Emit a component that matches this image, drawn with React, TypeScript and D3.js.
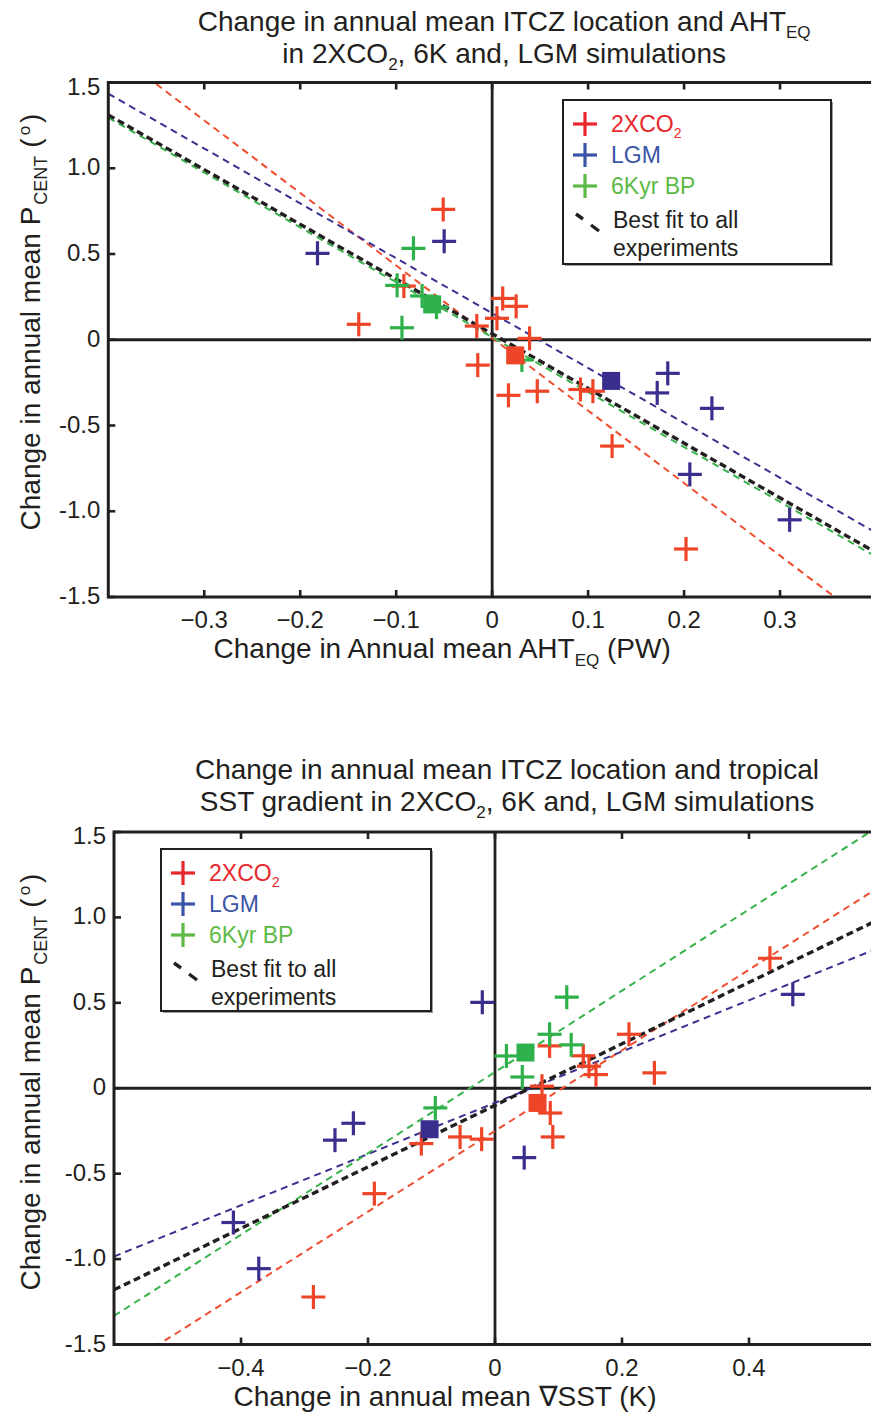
import React from "react";
import * as d3 from "d3";

// ---------- DATA ----------
// Top panel: Change in annual mean AHT_EQ (PW) vs P_CENT
const topRedX = [-0.051, -0.139, -0.092, 0.011, 0.025, 0.005, -0.016, 0.039, -0.015, 0.017, 0.047, 0.092, 0.105, 0.125, 0.202];
const topRedY = [0.76, 0.09, 0.313, 0.241, 0.195, 0.125, 0.08, 0.008, -0.148, -0.324, -0.3, -0.29, -0.3, -0.62, -1.22];
const topBlueX = [-0.182, -0.05, 0.183, 0.172, 0.229, 0.206, 0.31];
const topBlueY = [0.504, 0.574, -0.196, -0.31, -0.4, -0.785, -1.05];
const topGreenX = [-0.082, -0.099, -0.094, -0.073, -0.058, 0.031];
const topGreenY = [0.533, 0.317, 0.07, 0.255, 0.19, -0.118];
const topMeanX = [0.024, 0.124, -0.0625]; // red, blue, green
const topMeanY = [-0.091, -0.24, 0.206];
// fits: [intercept, slope] for red, blue, green, black
const topFitB = [0.01, 0.155, 0.015, 0.035];
const topFitM = [-4.23, -3.2, -3.2, -3.19];

// Bottom panel: Change in annual mean grad SST (K) vs P_CENT
const botRedX = [0.433, 0.211, 0.086, 0.139, 0.148, 0.251, 0.159, 0.074, 0.087, 0.091, -0.055, -0.021, -0.116, -0.19, -0.286];
const botRedY = [0.761, 0.316, 0.248, 0.19, 0.129, 0.09, 0.08, 0.012, -0.145, -0.285, -0.285, -0.298, -0.324, -0.617, -1.222];
const botBlueX = [-0.02, 0.469, -0.223, -0.252, 0.046, -0.412, -0.372];
const botBlueY = [0.503, 0.55, -0.205, -0.304, -0.406, -0.786, -1.056];
const botGreenX = [0.113, 0.086, 0.12, 0.018, 0.043, -0.094];
const botGreenY = [0.533, 0.316, 0.254, 0.189, 0.066, -0.115];
const botMeanX = [0.067, -0.103, 0.048];
const botMeanY = [-0.086, -0.24, 0.209];
const botFitB = [-0.25, -0.085, 0.095, -0.1];
const botFitM = [2.36, 1.5, 2.38, 1.8];

const topXTicks = [-0.3, -0.2, -0.1, 0, 0.1, 0.2, 0.3];
const botXTicks = [-0.4, -0.2, 0, 0.2, 0.4];
const yTicks = [-1.5, -1.0, -0.5, 0, 0.5, 1.0, 1.5];
const legendLabels = ["2XCO", "LGM", "6Kyr BP"];

// ---------- STYLE ----------
const markerColors = ["#ee4427", "#3a2e8f", "#2eb14b"];
const lineColors = ["#f04e30", "#3b3190", "#37b34a", "#231f20"];
const legendTextColors = ["#e8262b", "#3a55a6", "#5dba47"];
const FONT = "'Liberation Sans', Arial, Helvetica, sans-serif";
const INK = "#231f20";

const fmtY = (v: number) => (v === 0 ? "0" : v.toFixed(1));
const fmtX = (v: number) => (Math.abs(v) < 1e-9 ? "0" : d3.format("")(+v.toFixed(1)));

function Cross({ x, y, color }: { x: number; y: number; color: string }) {
  const h = 12;
  return (
    <g stroke={color} strokeWidth={3.2}>
      <line x1={x - h} x2={x + h} y1={y} y2={y} />
      <line x1={x} x2={x} y1={y - h} y2={y + h} />
    </g>
  );
}

function Panel(props: {
  id: string;
  xDomain: [number, number];
  xRange: [number, number];
  yRange: [number, number];
  xTicks: number[];
  reds: [number[], number[]];
  blues: [number[], number[]];
  greens: [number[], number[]];
  meanX: number[];
  meanY: number[];
  fitB: number[];
  fitM: number[];
  legend: { x: number; y: number; w: number; h: number };
  title1: React.ReactNode;
  title2: React.ReactNode;
  titleY: [number, number];
  xLabel: React.ReactNode;
  xLabelY: number;
  yLabelCenter: number;
}) {
  const x = d3.scaleLinear().domain(props.xDomain).range(props.xRange);
  const y = d3.scaleLinear().domain([-1.5, 1.5]).range(props.yRange);
  const [x0, x1] = props.xRange;
  const [yb, yt] = props.yRange;
  const line = d3.line<number>().x((v) => x(v));
  const series = [props.reds, props.blues, props.greens];
  const cx = (x0 + x1) / 2;
  const L = props.legend;
  const tickLen = 7;
  return (
    <g>
      <defs>
        <clipPath id={props.id}>
          <rect x={x0} y={yt} width={x1 - x0} height={yb - yt} />
        </clipPath>
      </defs>
      {/* titles */}
      <text x={cx + 12} y={props.titleY[0]} textAnchor="middle" fontSize={28} fontFamily={FONT} fill={INK}>
        {props.title1}
      </text>
      <text x={cx + 12} y={props.titleY[1]} textAnchor="middle" fontSize={28} fontFamily={FONT} fill={INK}>
        {props.title2}
      </text>
      {/* zero lines */}
      <line x1={x(0)} x2={x(0)} y1={yt} y2={yb} stroke={INK} strokeWidth={2.8} />
      <line x1={x0} x2={x1} y1={y(0)} y2={y(0)} stroke={INK} strokeWidth={2.8} />
      {/* fit lines */}
      <g clipPath={`url(#${props.id})`}>
        {props.fitB.map((b, i) => {
          const m = props.fitM[i];
          const gen = line.y((v) => y(b + m * v));
          const isBlack = i === 3;
          return (
            <path
              key={i}
              d={gen(props.xDomain) || ""}
              stroke={lineColors[i]}
              strokeWidth={isBlack ? 3.4 : 2}
              strokeDasharray={isBlack ? "7,4" : "7,5"}
              fill="none"
            />
          );
        })}
      </g>
      {/* crosses */}
      <g clipPath={`url(#${props.id})`}>
        {series.map((s, si) =>
          s[0].map((vx, j) => <Cross key={`${si}-${j}`} x={x(vx)} y={y(s[1][j])} color={markerColors[si]} />)
        )}
        {props.meanX.map((vx, i) => (
          <rect key={i} x={x(vx) - 9} y={y(props.meanY[i]) - 9} width={18} height={18} fill={markerColors[i]} />
        ))}
      </g>
      {/* frame */}
      <path d={`M${x1 + 5},${yt}H${x0}V${yb}H${x1 + 5}`} fill="none" stroke={INK} strokeWidth={3} />
      {/* ticks */}
      {props.xTicks.map((t) => (
        <g key={t}>
          <line x1={x(t)} x2={x(t)} y1={yb} y2={yb - tickLen} stroke={INK} strokeWidth={2.6} />
          <line x1={x(t)} x2={x(t)} y1={yt} y2={yt + tickLen} stroke={INK} strokeWidth={2.6} />
          <text x={x(t)} y={yb + 31} textAnchor="middle" fontSize={24} fontFamily={FONT} fill={INK}>
            {fmtX(t)}
          </text>
        </g>
      ))}
      {yTicks.map((t) => (
        <g key={t}>
          <line x1={x0} x2={x0 + tickLen} y1={y(t)} y2={y(t)} stroke={INK} strokeWidth={2.6} />
          <text x={x0 - 8} y={y(t) + (t === 1.5 ? 12 : 7)} textAnchor="end" fontSize={24} fontFamily={FONT} fill={INK}>
            {fmtY(t)}
          </text>
        </g>
      ))}
      {/* x label */}
      <text x={cx - 50} y={props.xLabelY} textAnchor="middle" fontSize={28} fontFamily={FONT} fill={INK}>
        {props.xLabel}
      </text>
      {/* y label */}
      <text
        transform={`translate(40,${props.yLabelCenter}) rotate(-90)`}
        textAnchor="middle"
        fontSize={28}
        fontFamily={FONT}
        fill={INK}
      >
        Change in annual mean P
        <tspan fontSize={18} dy={7} dx={2}>CENT</tspan>
        <tspan dy={-7} dx={8}>(</tspan>
        <tspan fontSize={17} dy={-10} dx={3}>o</tspan>
        <tspan dy={10} dx={3}>)</tspan>
      </text>
      {/* legend */}
      <rect x={L.x + 2} y={L.y + 2} width={L.w} height={L.h} fill="#9d9d9d" />
      <rect x={L.x} y={L.y} width={L.w} height={L.h} fill="#fff" stroke={INK} strokeWidth={2} />
      {legendLabels.map((lab, i) => {
        const ly = L.y + 24 + i * 31;
        return (
          <g key={lab}>
            <Cross x={L.x + 22} y={ly} color={legendTextColors[i]} />
            <text x={L.x + 48} y={ly + 8} fontSize={23} fontFamily={FONT} fill={legendTextColors[i]}>
              {lab}
              {i === 0 && (
                <tspan fontSize={14} dy={6}>
                  2
                </tspan>
              )}
            </text>
          </g>
        );
      })}
      <line x1={L.x + 13} x2={L.x + 20} y1={L.y + 114} y2={L.y + 119} stroke={INK} strokeWidth={3.4} />
      <line x1={L.x + 28} x2={L.x + 36} y1={L.y + 125} y2={L.y + 131} stroke={INK} strokeWidth={3.4} />
      <text x={L.x + 50} y={L.y + 128} fontSize={23} fontFamily={FONT} fill={INK}>
        Best fit to all
      </text>
      <text x={L.x + 50} y={L.y + 156} fontSize={23} fontFamily={FONT} fill={INK}>
        experiments
      </text>
    </g>
  );
}

export default function App() {
  return (
    <div style={{ position: "absolute", left: 0, top: 0 }}>
      <svg width={871} height={1413} style={{ display: "block", background: "#fff" }}>
        <Panel
          id="clipTop"
          xDomain={[-0.4, 0.4]}
          xRange={[108.3, 876]}
          yRange={[597, 82.5]}
          xTicks={topXTicks}
          reds={[topRedX, topRedY]}
          blues={[topBlueX, topBlueY]}
          greens={[topGreenX, topGreenY]}
          meanX={topMeanX}
          meanY={topMeanY}
          fitB={topFitB}
          fitM={topFitM}
          legend={{ x: 563, y: 100, w: 268, h: 164 }}
          titleY={[31, 63]}
          title1={
            <>
              Change in annual mean ITCZ location and AHT
              <tspan fontSize={17} dy={7}>EQ</tspan>
            </>
          }
          title2={
            <>
              in 2XCO
              <tspan fontSize={17} dy={7}>2</tspan>
              <tspan dy={-7}>, 6K and, LGM simulations</tspan>
            </>
          }
          xLabel={
            <>
              Change in Annual mean AHT
              <tspan fontSize={17} dy={8}>EQ</tspan>
              <tspan dy={-8}> (PW)</tspan>
            </>
          }
          xLabelY={658}
          yLabelCenter={322}
        />
        <Panel
          id="clipBot"
          xDomain={[-0.6, 0.6]}
          xRange={[114, 876]}
          yRange={[1344.5, 832]}
          xTicks={botXTicks}
          reds={[botRedX, botRedY]}
          blues={[botBlueX, botBlueY]}
          greens={[botGreenX, botGreenY]}
          meanX={botMeanX}
          meanY={botMeanY}
          fitB={botFitB}
          fitM={botFitM}
          legend={{ x: 161, y: 849, w: 270, h: 162 }}
          titleY={[779, 811]}
          title1={<>Change in annual mean ITCZ location and tropical</>}
          title2={
            <>
              SST gradient in 2XCO
              <tspan fontSize={17} dy={7}>2</tspan>
              <tspan dy={-7}>, 6K and, LGM simulations</tspan>
            </>
          }
          xLabel={<>Change in annual mean ∇SST (K)</>}
          xLabelY={1406}
          yLabelCenter={1082}
        />
      </svg>
    </div>
  );
}
